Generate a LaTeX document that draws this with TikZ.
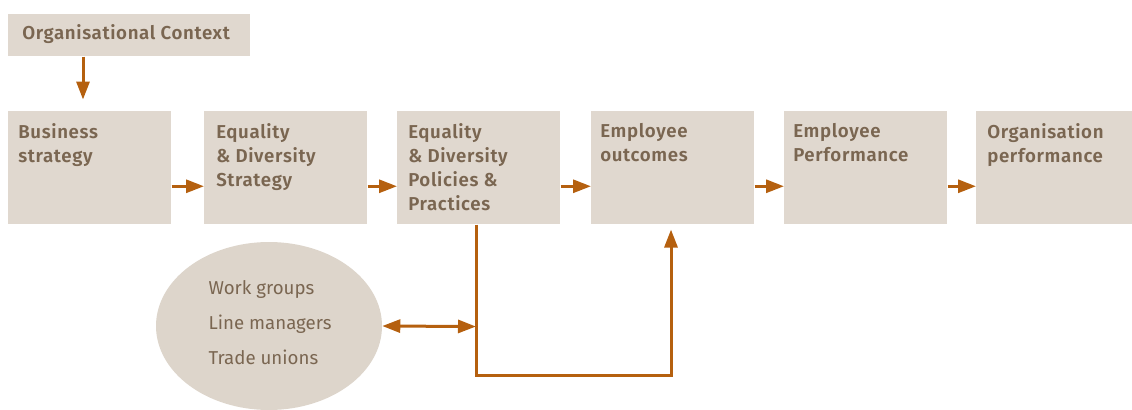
\documentclass[tikz,border=0pt]{standalone}
\usepackage{fontspec}
\setmainfont{Fira Sans}[BoldFont={Fira Sans SemiBold}]
\usetikzlibrary{arrows.meta,calc,shapes.geometric}
\definecolor{boxfill}{HTML}{E0D8CF}
\definecolor{txt}{HTML}{7A6651}
\definecolor{arr}{HTML}{B5600F}
\definecolor{ellfill}{HTML}{DDD5CB}
\begin{document}
\begin{tikzpicture}[x=0.75pt,y=-0.75pt,
  box/.style={draw=none, fill=boxfill, rectangle, inner sep=0pt, anchor=north west,
    minimum width=122.25pt, minimum height=84.75pt},
  lbl/.style={anchor=north west, align=left, text=txt, inner sep=0pt,
    font=\bfseries\fontsize{14}{18}\selectfont\addfontfeatures{LetterSpace=3.5}},
  conn/.style={draw=arr, line width=2.25pt, -{Triangle[length=13.5pt,width=9.75pt]}},
  dconn/.style={draw=arr, line width=2.25pt, {Triangle[length=13.5pt,width=9.75pt]}-{Triangle[length=13.5pt,width=9.75pt]}}]
\useasboundingbox (0,0) rectangle (1132,410);

\node[box, minimum width=181.5pt, minimum height=31.5pt] (ctx) at (8,14) {};
\node[lbl, anchor=west] (ctxt) at (22,34.5) {Organisational Context};

\node[box] (b1) at (8,111) {};
\node[box] (b2) at (204,111) {};
\node[box] (b3) at (397,111) {};
\node[box] (b4) at (591,111) {};
\node[box] (b5) at (784,111) {};
\node[box, minimum width=117pt] (b6) at (976,111) {};

\node[lbl] (t1) at ($(b1.north west)+(10,12.5)$) {Business\\strategy};
\node[lbl] (t2) at ($(b2.north west)+(12,12.5)$) {Equality\\\& Diversity\\Strategy};
\node[lbl] (t3) at ($(b3.north west)+(11,12.5)$) {Equality\\\& Diversity\\Policies \&\\Practices};
\node[lbl] (t4) at ($(b4.north west)+(9,12.5)$) {Employee\\outcomes};
\node[lbl] (t5) at ($(b5.north west)+(9,12.5)$) {Employee\\Performance};
\node[lbl] (t6) at ($(b6.north west)+(11,12.5)$) {Organisation\\performance};

\node[ellipse, fill=ellfill, draw=none, minimum width=169.5pt, minimum height=126pt,
  inner sep=0pt] (ell) at (269,326) {};
\node[text=txt, align=left, inner sep=0pt, font=\fontsize{14}{26.25}\selectfont] (elltxt) at (270,323)
  {Work groups\\Line managers\\Trade unions};

\draw[conn] ($(ctx.south west)+(75,0)$) -- ++(0,43);
\draw[conn] ($(b1.east)+(0,18.5)$) -- ($(b2.west)+(0,18.5)$);
\draw[conn] ($(b2.east)+(0,18.5)$) -- ($(b3.west)+(0,18.5)$);
\draw[conn] ($(b3.east)+(0,18.5)$) -- ($(b4.west)+(0,18.5)$);
\draw[conn] ($(b4.east)+(0,18.5)$) -- ($(b5.west)+(0,18.5)$);
\draw[conn] ($(b5.east)+(0,18.5)$) -- ($(b6.west)+(0,18.5)$);

\coordinate (j) at ($(b3.south west)+(79,102)$);
\draw[draw=arr, line width=2.25pt, line join=miter, -{Triangle[length=13.5pt,width=9.75pt]}]
  ($(b3.south west)+(79,0)$) -- ++(0,151) -| ($(b4.south west)+(80,5)$);
\draw[dconn] (ell.east) -- (j);
\end{tikzpicture}
\end{document}
